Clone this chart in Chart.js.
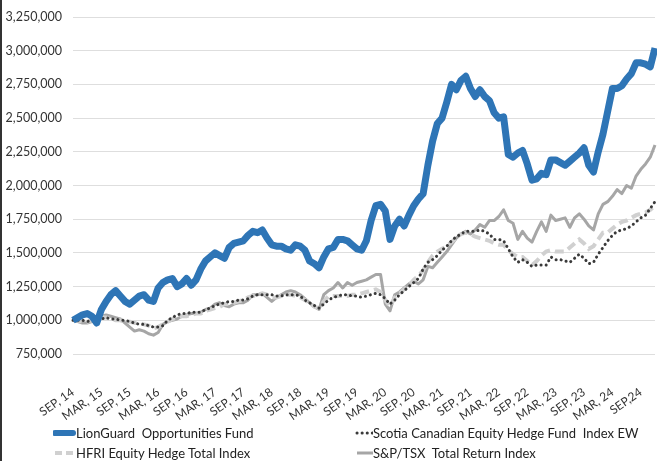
<!DOCTYPE html>
<html>
<head>
<meta charset="utf-8">
<script src="https://cdn.jsdelivr.net/npm/chart.js@4.4.1/dist/chart.umd.min.js"></script>
<style>
  html, body { margin: 0; padding: 0; background: #fff; }
  #wrap { position: relative; width: 657px; height: 461px; overflow: hidden; }
  #edge { position: absolute; left: 0; top: 0; width: 2px; height: 461px; background: #333; z-index: 2; }
  #chart { position: absolute; left: 0; top: 0; }
  .item { position: absolute; height: 18px; font-family: Lato, sans-serif; font-size: 13px; color: #222; white-space: pre; line-height: 18px; }
  .item svg { position: absolute; top: 0; }
  .item span { position: absolute; top: 0; }
</style>
</head>
<body>
<div id="wrap">
  <div id="edge"></div>
  <canvas id="chart" width="657" height="461"></canvas>
  <div id="legend"></div>
</div>
<script>
// tick labels shown every 6 months on the category axis
var tickLabels = ['SEP, 14', 'MAR, 15', 'SEP, 15', 'MAR, 16', 'SEP, 16', 'MAR, 17', 'SEP, 17',
    'MAR, 18', 'SEP, 18', 'MAR, 19', 'SEP, 19', 'MAR, 20', 'SEP, 20', 'MAR, 21', 'SEP, 21',
    'MAR, 22', 'SEP, 22', 'MAR, 23', 'SEP, 23', 'MAR, 24', 'SEP,24'];

// monthly growth of $1,000,000, Sep 2014 - Dec 2024
var lionGuard = [1000000,1020000,1040000,1050000,1030000,980000,1080000,1140000,1190000,1220000,
    1180000,1140000,1120000,1150000,1180000,1190000,1150000,1140000,1240000,1280000,
    1300000,1310000,1250000,1270000,1310000,1260000,1300000,1380000,1440000,1470000,
    1500000,1480000,1460000,1540000,1570000,1580000,1590000,1630000,1660000,1650000,
    1670000,1610000,1560000,1550000,1550000,1530000,1520000,1560000,1550000,1520000,
    1440000,1420000,1390000,1470000,1530000,1540000,1600000,1600000,1590000,1560000,
    1530000,1520000,1590000,1740000,1850000,1860000,1810000,1600000,1700000,1750000,
    1700000,1780000,1850000,1900000,1940000,2150000,2330000,2460000,2500000,2620000,
    2750000,2710000,2780000,2810000,2720000,2660000,2710000,2660000,2630000,2540000,
    2500000,2510000,2230000,2210000,2240000,2260000,2160000,2040000,2050000,2090000,
    2080000,2190000,2190000,2170000,2150000,2180000,2210000,2240000,2280000,2150000,
    2100000,2250000,2380000,2550000,2720000,2720000,2740000,2790000,2830000,2910000,
    2910000,2900000,2880000,3020000];

var scotia = [1000000,1000000,1000000,990000,1000000,1010000,1010000,1020000,1010000,1010000,
    1000000,1000000,990000,980000,970000,970000,960000,950000,950000,960000,
    1000000,1020000,1040000,1050000,1050000,1060000,1060000,1060000,1080000,1090000,
    1110000,1120000,1130000,1140000,1140000,1150000,1150000,1160000,1180000,1190000,
    1190000,1190000,1190000,1180000,1180000,1190000,1190000,1190000,1180000,1150000,
    1130000,1110000,1090000,1120000,1150000,1170000,1180000,1190000,1190000,1180000,
    1180000,1170000,1180000,1190000,1200000,1190000,1160000,1120000,1150000,1190000,
    1220000,1250000,1280000,1310000,1380000,1430000,1450000,1480000,1520000,1550000,
    1590000,1620000,1640000,1660000,1660000,1660000,1670000,1660000,1640000,1600000,
    1600000,1590000,1530000,1470000,1430000,1450000,1430000,1400000,1410000,1410000,
    1410000,1470000,1450000,1450000,1440000,1430000,1460000,1490000,1460000,1420000,
    1430000,1490000,1540000,1590000,1630000,1660000,1670000,1680000,1700000,1730000,
    1760000,1780000,1830000,1880000];

var hfri = [1000000,1000000,990000,990000,1000000,1010000,1020000,1020000,1010000,1000000,
    1000000,990000,990000,980000,980000,970000,960000,940000,950000,970000,
    990000,1010000,1020000,1030000,1030000,1040000,1050000,1050000,1070000,1080000,
    1090000,1100000,1120000,1120000,1130000,1140000,1150000,1170000,1180000,1190000,
    1200000,1190000,1170000,1170000,1180000,1190000,1190000,1180000,1170000,1150000,
    1130000,1100000,1090000,1140000,1180000,1180000,1180000,1180000,1180000,1190000,
    1190000,1200000,1210000,1220000,1230000,1210000,1150000,1100000,1170000,1200000,
    1230000,1260000,1300000,1330000,1370000,1430000,1480000,1510000,1530000,1550000,
    1580000,1610000,1640000,1650000,1640000,1620000,1610000,1600000,1590000,1570000,
    1560000,1560000,1520000,1490000,1470000,1470000,1440000,1410000,1440000,1480000,
    1510000,1520000,1510000,1510000,1510000,1540000,1570000,1600000,1570000,1530000,
    1550000,1600000,1650000,1650000,1680000,1710000,1730000,1740000,1760000,1780000,
    1790000,1800000,1820000,1850000];

var spTsx = [1000000,990000,980000,980000,990000,1000000,1030000,1040000,1030000,1020000,
    1010000,980000,950000,920000,930000,920000,900000,890000,910000,970000,
    990000,1000000,1010000,1030000,1040000,1050000,1050000,1060000,1080000,1090000,
    1120000,1130000,1110000,1100000,1120000,1130000,1130000,1150000,1190000,1190000,
    1200000,1170000,1140000,1170000,1190000,1210000,1220000,1210000,1190000,1160000,
    1130000,1100000,1080000,1190000,1220000,1240000,1280000,1240000,1280000,1260000,
    1280000,1290000,1300000,1320000,1340000,1340000,1120000,1070000,1190000,1210000,
    1240000,1270000,1290000,1270000,1300000,1400000,1390000,1430000,1470000,1510000,
    1560000,1610000,1640000,1660000,1640000,1670000,1710000,1690000,1740000,1740000,
    1770000,1820000,1740000,1720000,1600000,1660000,1610000,1580000,1660000,1730000,
    1660000,1780000,1740000,1750000,1760000,1690000,1760000,1790000,1750000,1700000,
    1670000,1790000,1860000,1880000,1920000,1970000,1940000,2000000,1980000,2070000,
    2120000,2160000,2210000,2300000];

var seriesNames = ['LionGuard  Opportunities Fund', 'Scotia Canadian Equity Hedge Fund  Index EW',
    'HFRI Equity Hedge Total Index', 'S&P/TSX  Total Return Index'];

// one category per month
var months = [];
var monthNames = ['JAN','FEB','MAR','APR','MAY','JUN','JUL','AUG','SEP','OCT','NOV','DEC'];
for (var i = 0; i < lionGuard.length; i++) {
    var m = (8 + i) % 12, y = 14 + Math.floor((8 + i) / 12);
    months.push(monthNames[m] + ', ' + y);
}

var ctx = document.getElementById('chart').getContext('2d');
var chart = new Chart(ctx, {
    type: 'line',
    data: {
        labels: months,
        datasets: [{
            label: seriesNames[0],
            data: lionGuard,
            borderColor: '#2e75b6',
            borderWidth: 7,
            borderJoinStyle: 'round'
        }, {
            label: seriesNames[1],
            data: scotia,
            borderColor: '#3a3a3a',
            borderWidth: 3,
            borderDash: [0.1, 5],
            borderCapStyle: 'round'
        }, {
            label: seriesNames[2],
            data: hfri,
            borderColor: '#d0d0d0',
            borderWidth: 4,
            borderDash: [9, 5]
        }, {
            label: seriesNames[3],
            data: spTsx,
            borderColor: '#a6a6a6',
            borderWidth: 3,
            borderJoinStyle: 'round'
        }]
    },
    options: {
        responsive: false,
        animation: false,
        clip: false,
        layout: { padding: { top: 17, right: 2, left: 0, bottom: 0 } },
        elements: { point: { radius: 0 }, line: { tension: 0 } },
        plugins: { legend: { display: false }, tooltip: { enabled: false } },
        scales: {
            x: {
                offset: false,
                grid: { display: false, drawTicks: false },
                border: { display: false },
                ticks: {
                    autoSkip: false,
                    minRotation: 35,
                    maxRotation: 35,
                    padding: 31,
                    color: '#333',
                    font: { family: 'Lato', size: 12 },
                    callback: function(v, i) { return i % 6 === 0 ? tickLabels[i / 6] : ''; }
                },
                afterFit: function(s) {
                    s.height = 461 - 354;
                    s.paddingLeft = 0;
                    s.paddingRight = 0;
                }
            },
            y: {
                min: 750000,
                max: 3250000,
                grid: { color: '#dedede', drawTicks: false },
                border: { display: false },
                ticks: {
                    stepSize: 250000,
                    padding: 11,
                    color: '#333',
                    font: { family: 'Lato', size: 12.5 },
                    callback: function(v) { return v.toLocaleString('en-US'); }
                },
                afterFit: function(s) {
                    s.width = 73;
                    s.paddingTop = 0;
                    s.paddingBottom = 0;
                }
            }
        }
    }
});

// legend laid out in two columns like the original
var legendPos = [[53, 424], [355, 424], [53, 444], [355, 444]];
var markers = [
    '<line x1="2" y1="9" x2="20" y2="9" stroke="#2e75b6" stroke-width="6" stroke-linecap="round"/>',
    '<line x1="2" y1="9" x2="18" y2="9" stroke="#3a3a3a" stroke-width="3" stroke-dasharray="0.1 5" stroke-linecap="round"/>',
    '<line x1="2" y1="9" x2="21" y2="9" stroke="#d0d0d0" stroke-width="4" stroke-dasharray="7 4"/>',
    '<line x1="2" y1="9" x2="18" y2="9" stroke="#a6a6a6" stroke-width="3"/>'
];
var legend = document.getElementById('legend');
chart.data.datasets.forEach(function(ds, i) {
    var el = document.createElement('div');
    el.className = 'item';
    el.style.left = legendPos[i][0] + 'px';
    el.style.top = legendPos[i][1] + 'px';
    var w = (i % 2 === 0) ? 23 : 18;
    el.innerHTML = '<svg width="' + w + '" height="18">' + markers[i] + '</svg><span style="left:' + w + 'px"></span>';
    el.querySelector('span').textContent = ds.label;
    legend.appendChild(el);
});
</script>
</body>
</html>
